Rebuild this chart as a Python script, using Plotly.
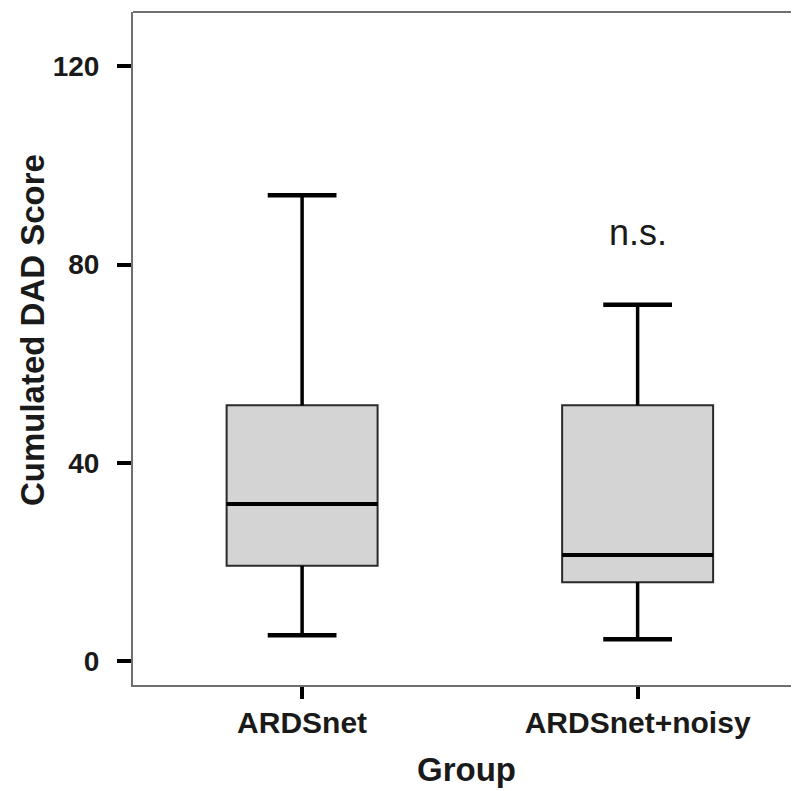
import plotly.graph_objects as go

# ---- data ----
groups = ["ARDSnet", "ARDSnet+noisy"]
lower_whisker = [5.2, 4.4]
q1_values = [19.2, 15.9]
medians = [31.7, 21.4]
q3_values = [51.6, 51.6]
upper_whisker = [94.0, 71.9]
y_ticks = [0, 40, 80, 120]
annotation_text = "n.s."
annotation_y = 86.5

# ---- style ----
positions = list(range(len(groups)))
box_w = 0.45
cap_w = 0.205
FONT = "Liberation Sans, Arial, sans-serif"

fig = go.Figure()

for i, g in enumerate(groups):
    fig.add_trace(go.Box(
        x=[positions[i]], q1=[q1_values[i]], median=[medians[i]], q3=[q3_values[i]],
        lowerfence=[lower_whisker[i]], upperfence=[upper_whisker[i]],
        width=box_w, whiskerwidth=0, fillcolor="#d4d4d4",
        line=dict(color="#2a2a2a", width=2), boxpoints=False,
        name=g, showlegend=False, hoverinfo="skip",
    ))

# thicker whiskers, caps and medians on top
wx, wy, cx, cy, mx, my = [], [], [], [], [], []
for i in range(len(groups)):
    p = positions[i]
    wx += [p, p, None, p, p, None]
    wy += [q3_values[i], upper_whisker[i], None, q1_values[i], lower_whisker[i], None]
    for v in (upper_whisker[i], lower_whisker[i]):
        cx += [p - cap_w / 2, p + cap_w / 2, None]
        cy += [v, v, None]
    mx += [p - box_w / 2, p + box_w / 2, None]
    my += [medians[i], medians[i], None]

fig.add_trace(go.Scatter(x=wx, y=wy, mode="lines", line=dict(color="black", width=3.5),
                         showlegend=False, hoverinfo="skip"))
fig.add_trace(go.Scatter(x=cx, y=cy, mode="lines", line=dict(color="black", width=4.5),
                         showlegend=False, hoverinfo="skip"))
fig.add_trace(go.Scatter(x=mx, y=my, mode="lines", line=dict(color="black", width=4),
                         showlegend=False, hoverinfo="skip"))

fig.add_annotation(x=positions[1], y=annotation_y, xref="x", yref="y",
                   text=annotation_text, showarrow=False,
                   font=dict(family=FONT, size=36, color="#1a1a1a"),
                   xanchor="center", yanchor="middle")

# axis titles
fig.add_annotation(x=-0.150, y=0.5275, xref="paper", yref="paper",
                   text="<b>Cumulated DAD Score</b>", textangle=-90, showarrow=False,
                   font=dict(family=FONT, size=33, color="#1a1a1a"),
                   xanchor="center", yanchor="middle")
fig.add_annotation(x=0.5, y=-0.126, xref="paper", yref="paper",
                   text="<b>Group</b>", showarrow=False,
                   font=dict(family=FONT, size=33, color="#1a1a1a"),
                   xanchor="center", yanchor="middle")

# top frame line
fig.add_shape(type="line", xref="paper", yref="paper", x0=0, x1=1, y0=1, y1=1,
              line=dict(color="#707070", width=2))

fig.update_layout(
    width=791, height=783,
    margin=dict(l=125, r=0, t=4, b=106),
    paper_bgcolor="white", plot_bgcolor="white",
    showlegend=False,
    xaxis=dict(
        range=[-0.504, 1.481], tickvals=positions, ticktext=[f"<b>{g}</b>" for g in groups],
        showgrid=False, zeroline=False, showline=True, linecolor="#707070", linewidth=2,
        ticks="outside", ticklen=12, tickwidth=3.5, tickcolor="black",
        tickfont=dict(family=FONT, size=30, color="#1a1a1a"),
        ticklabelstandoff=-2,
    ),
    yaxis=dict(
        range=[-4.85, 131.0], tickvals=y_ticks, ticktext=[f"<b>{v}</b>" for v in y_ticks],
        showgrid=False, zeroline=False, showline=True, linecolor="#707070", linewidth=2,
        ticks="outside", ticklen=14, tickwidth=4, tickcolor="black",
        tickfont=dict(family=FONT, size=28, color="#1a1a1a"),
        ticklabelstandoff=12,
    ),
)

fig.write_html("out.html")
